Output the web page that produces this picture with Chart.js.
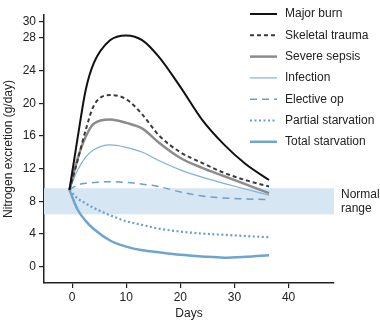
<!DOCTYPE html>
<html>
<head>
<meta charset="utf-8">
<script src="https://cdn.jsdelivr.net/npm/chart.js@4"></script>
<style>
  html, body { margin: 0; padding: 0; background: #fff; }
  #wrap { width: 380px; height: 321px; }
</style>
</head>
<body>
<div id="wrap"><canvas id="nitro"></canvas></div>
<script>
// values
var days = [-0.5, 1, 2.5, 4, 7, 10, 13, 16, 20, 24, 28, 32, 36.4];
var majorBurn      = [9.4, 15.7, 21.6, 24.9, 27.7, 28.3, 27.7, 25.7, 22.0, 18.0, 15.0, 12.6, 10.6];
var skeletalTrauma = [9.4, 13.0, 16.7, 19.7, 21.0, 20.5, 18.6, 16.1, 14.0, 12.7, 11.5, 10.6, 9.8];
var severeSepsis   = [9.4, 13.2, 15.9, 17.5, 18.0, 17.6, 16.9, 15.2, 13.3, 12.1, 11.1, 10.1, 9.0];
var infection      = [9.4, 11.8, 13.4, 14.3, 14.9, 14.6, 14.0, 13.0, 11.85, 10.95, 10.2, 9.5, 8.75];
var electiveOp     = [9.4, 10.0, 10.2, 10.3, 10.4, 10.3, 10.1, 9.8, 9.15, 8.65, 8.4, 8.3, 8.2];
var partialStarv   = [9.4, 8.35, 7.75, 7.2, 6.3, 5.55, 5.1, 4.65, 4.3, 4.05, 3.9, 3.75, 3.6];
var totalStarv     = [9.4, 7.0, 5.6, 4.6, 3.2, 2.45, 2.0, 1.75, 1.45, 1.25, 1.1, 1.2, 1.4];

var seriesNames = ["Major burn", "Skeletal trauma", "Severe sepsis", "Infection",
                   "Elective op", "Partial starvation", "Total starvation"];
var normalRange = [6.4, 9.6];
var normalLabel = ["Normal", "range"];
var xTicks = [0, 10, 20, 30, 40];
var yTicks = [0, 4, 8, 12, 16, 20, 24, 28, 30];

var FONT = "'Liberation Sans', Arial, Helvetica, sans-serif";
var INK = "#222";

function pts(vals) {
    return days.map(function (d, i) { return { x: d, y: vals[i] }; });
}

function ds(i, vals, color, width, dash) {
    return {
        label: seriesNames[i],
        data: pts(vals),
        borderColor: color,
        borderWidth: width,
        borderDash: dash,
        pointRadius: 0,
        fill: false,
        cubicInterpolationMode: 'monotone'
    };
}

// shaded normal band + its label
var bandPlugin = {
    id: 'band',
    beforeDatasetsDraw: function (chart) {
        var c = chart.ctx, a = chart.chartArea, y = chart.scales.y;
        var top = y.getPixelForValue(normalRange[1]);
        var bot = y.getPixelForValue(normalRange[0]);
        c.save();
        c.fillStyle = "#d6e6f2";
        c.fillRect(a.left, top, a.right - a.left, bot - top);
        c.restore();
    },
    afterDraw: function (chart) {
        var c = chart.ctx, a = chart.chartArea, y = chart.scales.y;
        var mid = (y.getPixelForValue(normalRange[1]) + y.getPixelForValue(normalRange[0])) / 2;
        c.save();
        c.font = "12px " + FONT;
        c.fillStyle = INK;
        c.textBaseline = "middle";
        c.textAlign = "left";
        c.fillText(normalLabel[0], a.right + 7, mid - 7);
        c.fillText(normalLabel[1], a.right + 7, mid + 7);
        c.restore();
    }
};

// legend drawn by hand, top right
var legendPlugin = {
    id: 'sideLegend',
    afterDraw: function (chart) {
        var c = chart.ctx;
        c.save();
        c.font = "12px " + FONT;
        c.textBaseline = "middle";
        c.textAlign = "left";
        chart.data.datasets.forEach(function (d, i) {
            var yy = 14 + i * 21.3;
            c.strokeStyle = d.borderColor;
            c.lineWidth = d.borderWidth;
            c.setLineDash(d.borderDash || []);
            c.beginPath();
            c.moveTo(250, yy);
            c.lineTo(277, yy);
            c.stroke();
            c.setLineDash([]);
            c.fillStyle = INK;
            c.fillText(d.label, 285, yy);
        });
        c.restore();
    }
};

new Chart(document.getElementById('nitro'), {
    type: 'line',
    data: {
        datasets: [
            ds(0, majorBurn, "#111111", 2, []),
            ds(1, skeletalTrauma, "#3a3a3a", 2, [4, 3]),
            ds(2, severeSepsis, "#8c8c8c", 2.5, []),
            ds(3, infection, "#80b1d6", 1.2, []),
            ds(4, electiveOp, "#6f9fc8", 1.5, [7, 5]),
            ds(5, partialStarv, "#6a9fcc", 2.2, [2, 2.5]),
            ds(6, totalStarv, "#6fa4d0", 2.5, [])
        ]
    },
    options: {
        responsive: true,
        maintainAspectRatio: false,
        animation: false,
        layout: { padding: { top: 15, right: 46, left: 0, bottom: 0 } },
        plugins: {
            legend: { display: false },
            tooltip: { enabled: false }
        },
        scales: {
            x: {
                type: 'linear',
                min: -5.2,
                max: 48.4,
                afterBuildTicks: function (s) { s.ticks = xTicks.map(function (v) { return { value: v }; }); },
                afterFit: function (s) { s.height = 38; },
                grid: { display: true, drawOnChartArea: false, drawTicks: true, tickLength: 5, color: INK, lineWidth: 1.2 },
                border: { display: true, color: INK, width: 1.5 },
                ticks: { color: INK, padding: 2, font: { family: FONT, size: 12 } },
                title: { display: true, text: 'Days', color: INK, padding: { top: 0, bottom: 0 }, font: { family: FONT, size: 12 } }
            },
            y: {
                min: -2,
                max: 30.8,
                afterBuildTicks: function (s) { s.ticks = yTicks.map(function (v) { return { value: v }; }); },
                afterFit: function (s) { s.width = 44; },
                grid: { display: true, drawOnChartArea: false, drawTicks: true, tickLength: 5, color: INK, lineWidth: 1.2 },
                border: { display: true, color: INK, width: 1.5 },
                ticks: { color: INK, padding: 3, font: { family: FONT, size: 12 } },
                title: { display: true, text: 'Nitrogen excretion (g/day)', color: INK, padding: { top: 1, bottom: 0 }, font: { family: FONT, size: 12 } }
            }
        }
    },
    plugins: [bandPlugin, legendPlugin]
});
</script>
</body>
</html>
